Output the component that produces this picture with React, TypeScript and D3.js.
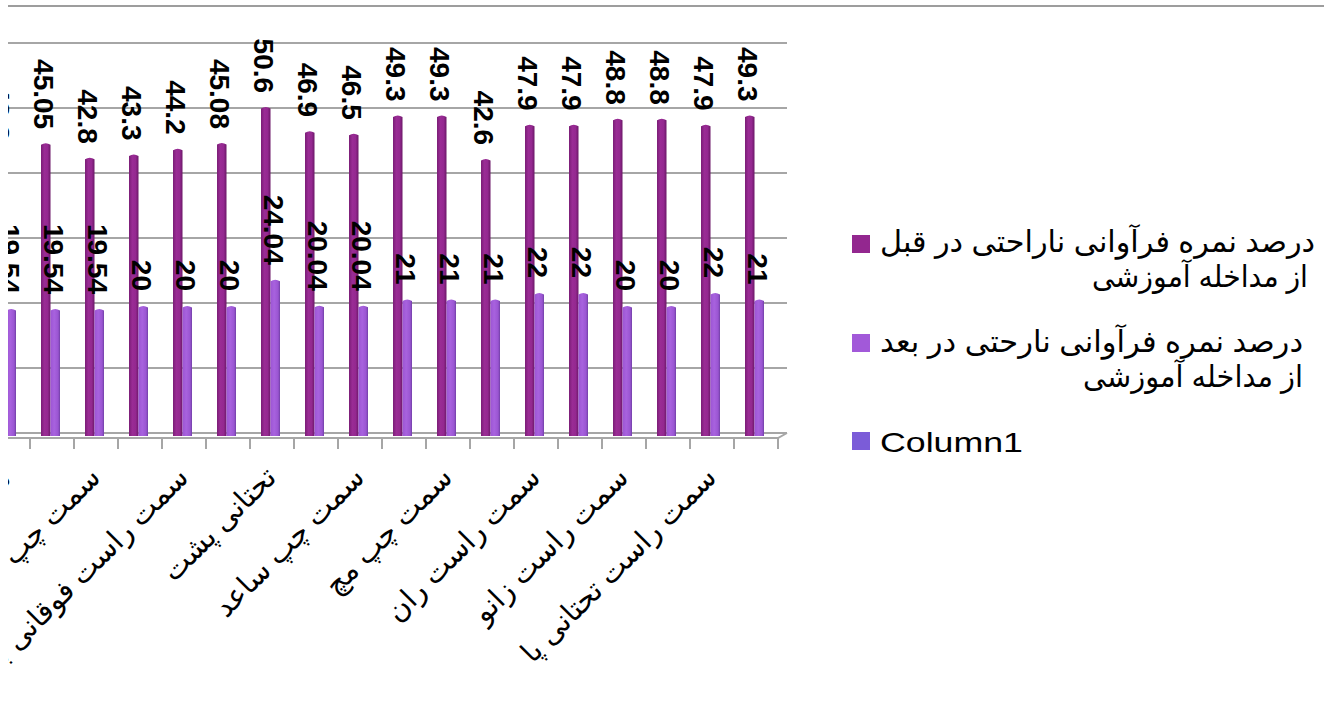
import React from 'react';
import * as d3 from 'd3';

// categories (every other label is shown on the axis, the first one is cut off)
const categories = [
  'گردن',
  'سمت راست شانه',
  'سمت چپ شانه',
  'سمت چپ فوقانی بازو',
  'سمت راست فوقانی بازو',
  'فوقانی پشت',
  'تحتانی پشت',
  'سمت راست ساعد',
  'سمت چپ ساعد',
  'سمت راست مچ',
  'سمت چپ مچ',
  'سمت چپ ران',
  'سمت راست ران',
  'سمت چپ زانو',
  'سمت راست زانو',
  'سمت چپ تحتانی پا',
  'سمت راست تحتانی پا',
  'مچ پا',
];

const beforeValues = [43.3, 45.05, 42.8, 43.3, 44.2, 45.08, 50.6, 46.9, 46.5, 49.3, 49.3, 42.6, 47.9, 47.9, 48.8, 48.8, 47.9, 49.3];
const afterValues = [19.54, 19.54, 19.54, 20, 20, 20, 24.04, 20.04, 20.04, 21, 21, 21, 22, 22, 20, 20, 22, 21];

const seriesNames = [
  ['درصد نمره فرآوانی ناراحتی در قبل', 'از مداخله آموزشی'],
  [' درصد نمره فرآوانی نارحتی در بعد', 'از مداخله آموزشی'],
  ['Column1'],
];
const seriesColors = ['#93278f', '#a259d9', '#7b5cd8'];
const yTicks = [0, 10, 20, 30, 40, 50, 60];

const W = 1324;
const H = 717;
const FONT = "Arial, 'Liberation Sans', 'DejaVu Sans', sans-serif";

const App: React.FC = () => {
  const x = d3.scaleBand<string>().domain(categories).range([-14, 778]);
  const x1 = d3.scaleBand<number>().domain([0, 1, 2]).range([11, 39.5]);
  const y = d3.scaleLinear().domain([0, 60]).range([436, 46]);

  const bw = x1.bandwidth();
  const wallShift = -3;
  const wallRight = 787;
  const floorFront = y(0) + 2;

  const bar = (i: number, s: number, v: number) => {
    const x0 = (x(categories[i]) ?? 0) + (x1(s) ?? 0);
    const top = y(v);
    const base = y(0);
    return `M${x0},${base} L${x0},${top + 1.5} Q${x0 + bw / 2},${top - 1.5} ${x0 + bw},${top + 1.5} L${x0 + bw},${base} Z`;
  };

  // legend layout
  const legendItems = [
    { lines: seriesNames[0], sq: 235, base: [252, 287], right: [1315, 1308], len: [435, 216], fs: 30 },
    { lines: seriesNames[1], sq: 334, base: [352, 387], right: [1303, 1303], len: [423, 220], fs: 30 },
    { lines: seriesNames[2], sq: 432, base: [452], right: [1023], len: [143], fs: 28 },
  ];

  return (
    <svg width={W} height={H} style={{ position: 'absolute', left: 0, top: 0, background: '#fff' }}>
      <defs>
        <clipPath id="cut">
          <rect x={8} y={0} width={W - 8} height={H} />
        </clipPath>
        <linearGradient id="g0" x1="0" x2="1" y1="0" y2="0">
          <stop offset="0" stopColor="#7a1d76" />
          <stop offset="0.35" stopColor="#9a2c95" />
          <stop offset="0.7" stopColor="#942890" />
          <stop offset="1" stopColor="#6c1868" />
        </linearGradient>
        <linearGradient id="g1" x1="0" x2="1" y1="0" y2="0">
          <stop offset="0" stopColor="#9c55d4" />
          <stop offset="0.4" stopColor="#a862de" />
          <stop offset="0.8" stopColor="#9a55d2" />
          <stop offset="1" stopColor="#7140a6" />
        </linearGradient>
      </defs>

      <g clipPath="url(#cut)">
        {/* top rule */}
        <rect x={0} y={5} width={W} height={2} fill="#9d9d9d" />

        {/* back wall gridlines */}
        {yTicks.map(t => (
          <line key={t} x1={-30} x2={wallRight} y1={y(t) + wallShift} y2={y(t) + wallShift}
            stroke="#a6a6a6" strokeWidth={2} />
        ))}

        {/* floor */}
        <path d={`M-30,${floorFront} L${wallRight - 9},${floorFront} L${wallRight},${y(0) + wallShift}`}
          fill="none" stroke="#a6a6a6" strokeWidth={2} />
        {categories.map((c, i) => {
          const tx = (x(c) ?? 0) + x.bandwidth();
          return <line key={'t' + i} x1={tx} x2={tx} y1={floorFront} y2={floorFront + 11} stroke="#a6a6a6" strokeWidth={2} />;
        })}

        {/* bars */}
        {categories.map((c, i) => (
          <g key={'b' + i}>
            <path d={bar(i, 0, beforeValues[i])} fill="url(#g0)" />
            <path d={bar(i, 1, afterValues[i])} fill="url(#g1)" />
          </g>
        ))}

        {/* value labels */}
        {categories.map((c, i) => {
          const cx0 = (x(c) ?? 0) + (x1(0) ?? 0) + bw / 2 - 2;
          const cx1 = (x(c) ?? 0) + (x1(1) ?? 0) + bw / 2 - 2;
          const ty0 = y(beforeValues[i]) - 14;
          const ty1 = y(afterValues[i]) - 15;
          return (
            <g key={'l' + i} fontFamily={FONT} fontWeight="bold" fontSize={28} fill="#000">
              <text transform={`translate(${cx0},${ty0}) rotate(90)`} textAnchor="end" dominantBaseline="central">
                {beforeValues[i]}
              </text>
              <text transform={`translate(${cx1},${ty1}) rotate(90)`} textAnchor="end" dominantBaseline="central">
                {afterValues[i]}
              </text>
            </g>
          );
        })}

        {/* category labels */}
        {categories.map((c, i) =>
          i % 2 === 0 ? (
            <text key={'c' + i} transform={`translate(${(x(c) ?? 0) + x.bandwidth() / 2 + 6},${479}) rotate(-45)`}
              textAnchor="end" fontFamily={FONT} fontSize={29} fill="#000">
              {c}
            </text>
          ) : null
        )}

        {/* legend */}
        {legendItems.map((it, k) => (
          <g key={'lg' + k}>
            <rect x={852} y={it.sq} width={18} height={18} fill={seriesColors[k]} />
            {it.lines.map((ln, j) => (
              <text key={j} x={it.right[j]} y={it.base[j]} textAnchor="end" fontFamily={FONT} fontSize={it.fs}
                textLength={it.len[j]} lengthAdjust="spacingAndGlyphs" fill="#000">
                {ln}
              </text>
            ))}
          </g>
        ))}
      </g>
    </svg>
  );
};

export default App;
